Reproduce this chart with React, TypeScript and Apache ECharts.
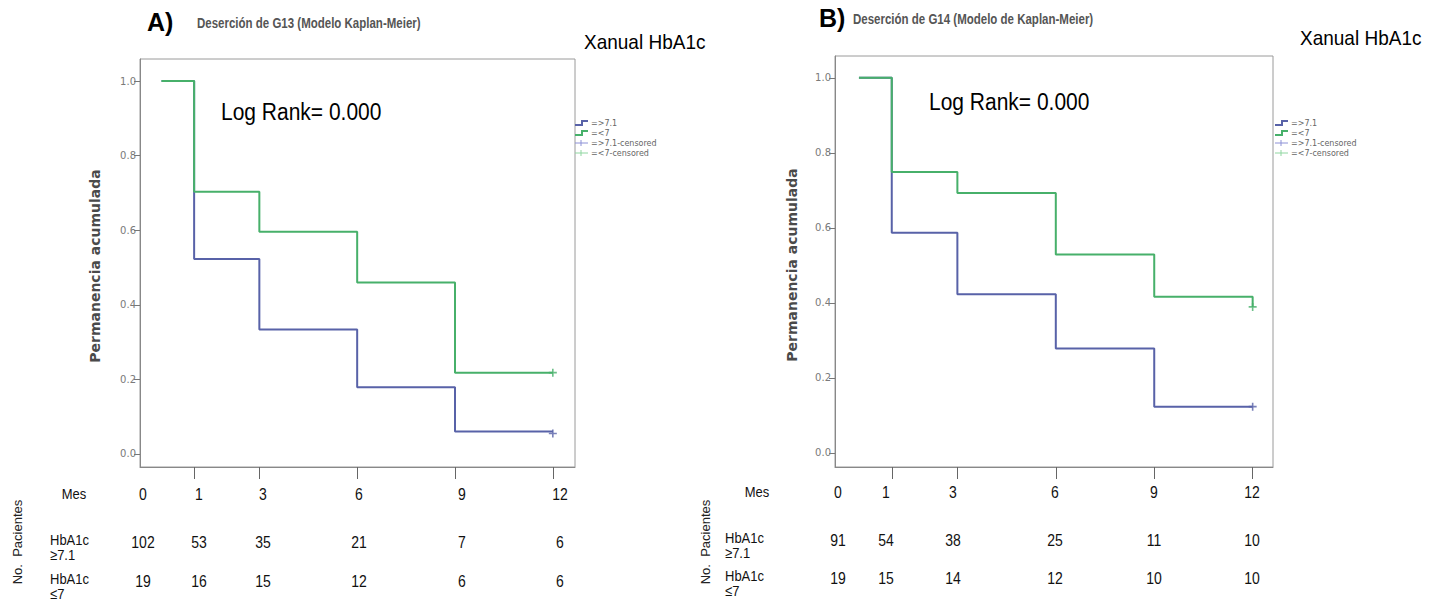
import React, { useEffect, useRef } from "react";
import * as echarts from "echarts";

// ---- data ----
const months = [0, 1, 3, 6, 9, 12];
const monthLabels = ["0", "1", "3", "6", "9", "12"];
const xTickMonths = [1, 3, 6, 9, 12];
const yTicks = [0, 0.2, 0.4, 0.6, 0.8, 1.0];

// Panel A: G13
const survHighA = [1, 0.523, 0.334, 0.179, 0.06, 0.06];
const survLowA = [1, 0.703, 0.596, 0.46, 0.218, 0.218];
const censorHighA = [[12, 0.055]];
const censorLowA = [[12, 0.218]];
const riskHighA = [102, 53, 35, 21, 7, 6];
const riskLowA = [19, 16, 15, 12, 6, 6];

// Panel B: G14
const survHighB = [1, 0.587, 0.423, 0.278, 0.123, 0.123];
const survLowB = [1, 0.749, 0.693, 0.529, 0.416, 0.389];
const censorHighB = [[12, 0.123]];
const censorLowB = [[12, 0.389]];
const riskHighB = [91, 54, 38, 25, 11, 10];
const riskLowB = [19, 15, 14, 12, 10, 10];

const legendLabels = ["=>7.1", "=<7", "=>7.1-censored", "=<7-censored"];

// ---- styles / layout ----
const BLUE = "#5862a8";
const GREEN = "#47b06a";
const BLUE_LIGHT = "#8c90d6";
const GREEN_LIGHT = "#8fd6a0";
const PLUS = "path://M4,0H6V4H10V6H6V10H4V6H0V4H4Z";

const panels = [
  {
    letter: "A)",
    title: "Deserción de G13 (Modelo Kaplan-Meier)",
    grid: { left: 140, top: 59, width: 435, height: 408 },
    xMin: -0.66, xMax: 12.68, yMin: -0.035, yMax: 1.059,
    high: survHighA, low: survLowA, cHigh: censorHighA, cLow: censorLowA,
    riskHigh: riskHighA, riskLow: riskLowA,
    letterPos: [147, 22], titlePos: [197, 23],
    logRankPos: [221, 112], xanualPos: [584, 42],
    legendPos: [575, 123],
    yNamePos: [95, 266],
    tableX: [143, 199, 263, 359, 462, 560],
    mesX: 74, rowLabelX: 50, pacX: 17,
    rowY: [494, 542, 581],
  },
  {
    letter: "B)",
    title: "Deserción de G14 (Modelo de Kaplan-Meier)",
    grid: { left: 835, top: 56, width: 438, height: 411 },
    xMin: -0.73, xMax: 12.62, yMin: -0.038, yMax: 1.058,
    high: survHighB, low: survLowB, cHigh: censorHighB, cLow: censorLowB,
    riskHigh: riskHighB, riskLow: riskLowB,
    letterPos: [819, 18], titlePos: [853, 19],
    logRankPos: [929, 102], xanualPos: [1300, 38],
    legendPos: [1275, 123],
    yNamePos: [792, 265],
    tableX: [838, 886, 953, 1055, 1154, 1252],
    mesX: 757, rowLabelX: 725, pacX: 705,
    rowY: [492, 540, 578],
  },
];

function buildOption() {
  const grids: any[] = [];
  const xAxes: any[] = [];
  const yAxes: any[] = [];
  const series: any[] = [];
  const graphics: any[] = [];

  panels.forEach((p, i) => {
    grids.push({ ...p.grid, show: true, borderColor: "#9a9a9a", borderWidth: 1, backgroundColor: "transparent" });
    xAxes.push({
      type: "value", gridIndex: i, min: p.xMin, max: p.xMax,
      axisLine: { show: true, onZero: false, lineStyle: { color: "#888", width: 1 } },
      axisTick: { show: true, customValues: xTickMonths, length: 12, lineStyle: { color: "#666" } },
      axisLabel: { show: false },
      splitLine: { show: false },
    });
    yAxes.push({
      type: "value", gridIndex: i, min: p.yMin, max: p.yMax,
      axisLine: { show: true, onZero: false, lineStyle: { color: "#888", width: 1 } },
      axisTick: { show: true, customValues: yTicks, length: 6, lineStyle: { color: "#777" } },
      axisLabel: {
        show: true, customValues: yTicks, formatter: (v: number) => v.toFixed(1),
        fontSize: 10, color: "#7a7a7a", fontFamily: "DejaVu Sans", margin: 4,
      },
      splitLine: { show: false },
    });
    series.push({
      type: "line", name: legendLabels[0], xAxisIndex: i, yAxisIndex: i, step: "end",
      data: months.map((m, j) => [m, p.high[j]]), showSymbol: false,
      lineStyle: { color: BLUE, width: 2 }, itemStyle: { color: BLUE }, z: 2,
    });
    series.push({
      type: "line", name: legendLabels[1], xAxisIndex: i, yAxisIndex: i, step: "end",
      data: months.map((m, j) => [m, p.low[j]]), showSymbol: false,
      lineStyle: { color: GREEN, width: 2 }, itemStyle: { color: GREEN }, z: 3,
    });
    series.push({
      type: "scatter", name: legendLabels[2], xAxisIndex: i, yAxisIndex: i,
      data: p.cHigh, symbol: PLUS, symbolSize: 8, itemStyle: { color: BLUE }, z: 4,
    });
    series.push({
      type: "scatter", name: legendLabels[3], xAxisIndex: i, yAxisIndex: i,
      data: p.cLow, symbol: PLUS, symbolSize: 8, itemStyle: { color: GREEN }, z: 4,
    });

    // titles
    graphics.push({
      type: "text", x: p.letterPos[0], y: p.letterPos[1], scaleY: 1.05,
      style: { text: p.letter, font: "bold 25px 'Liberation Sans', Arial", fill: "#000", verticalAlign: "middle" },
    });
    graphics.push({
      type: "text", x: p.titlePos[0], y: p.titlePos[1], scaleY: 1.35,
      style: { text: p.title, font: "bold 11.5px 'Liberation Sans', Arial", fill: "#555", verticalAlign: "middle" },
    });
    graphics.push({
      type: "text", x: p.logRankPos[0], y: p.logRankPos[1], scaleY: 1.1,
      style: { text: "Log Rank= 0.000", font: "21px 'Liberation Sans', Arial", fill: "#000", verticalAlign: "middle" },
    });
    graphics.push({
      type: "text", x: p.xanualPos[0], y: p.xanualPos[1], scaleY: 1.1,
      style: { text: "Xanual HbA1c", font: "19px 'Liberation Sans', Arial", fill: "#000", verticalAlign: "middle" },
    });
    // y-axis name
    graphics.push({
      type: "text", x: p.yNamePos[0], y: p.yNamePos[1], rotation: Math.PI / 2,
      style: { text: "Permanencia acumulada", font: "bold 14px 'DejaVu Sans'", fill: "#4a4a4a", align: "center", verticalAlign: "middle" },
    });
    // legend
    const [lx, ly] = p.legendPos;
    const rowsY = [ly, ly + 10, ly + 20, ly + 30];
    graphics.push({ type: "polyline", shape: { points: [[lx, rowsY[0] + 2], [lx + 7, rowsY[0] + 2], [lx + 7, rowsY[0] - 2], [lx + 13, rowsY[0] - 2]] }, style: { stroke: BLUE, lineWidth: 2, fill: null } });
    graphics.push({ type: "polyline", shape: { points: [[lx, rowsY[1] + 2], [lx + 7, rowsY[1] + 2], [lx + 7, rowsY[1] - 2], [lx + 13, rowsY[1] - 2]] }, style: { stroke: GREEN, lineWidth: 2, fill: null } });
    graphics.push({ type: "line", shape: { x1: lx, y1: rowsY[2], x2: lx + 13, y2: rowsY[2] }, style: { stroke: BLUE_LIGHT, lineWidth: 1 } });
    graphics.push({ type: "line", shape: { x1: lx + 6, y1: rowsY[2] - 3, x2: lx + 6, y2: rowsY[2] + 3 }, style: { stroke: BLUE_LIGHT, lineWidth: 1 } });
    graphics.push({ type: "line", shape: { x1: lx, y1: rowsY[3], x2: lx + 13, y2: rowsY[3] }, style: { stroke: GREEN_LIGHT, lineWidth: 1 } });
    graphics.push({ type: "line", shape: { x1: lx + 6, y1: rowsY[3] - 3, x2: lx + 6, y2: rowsY[3] + 3 }, style: { stroke: GREEN_LIGHT, lineWidth: 1 } });
    legendLabels.forEach((t, k) => {
      graphics.push({
        type: "text", x: lx + 16, y: rowsY[k],
        style: { text: t, font: "8px 'DejaVu Sans'", fill: "#666", verticalAlign: "middle" },
      });
    });

    // risk table
    const tableFont = "14px 'Liberation Sans', Arial";
    const labelFont = "13px 'Liberation Sans', Arial";
    graphics.push({
      type: "text", x: p.mesX, y: p.rowY[0], scaleY: 1.15,
      style: { text: "Mes", font: labelFont, fill: "#111", align: "center", verticalAlign: "middle" },
    });
    graphics.push({
      type: "text", x: p.rowLabelX, y: p.rowY[1] - 2, scaleY: 1.15,
      style: { text: "HbA1c", font: labelFont, fill: "#111", verticalAlign: "middle" },
    });
    graphics.push({
      type: "text", x: p.rowLabelX, y: p.rowY[1] + 13, scaleY: 1.15,
      style: { text: "≥7.1", font: labelFont, fill: "#111", verticalAlign: "middle" },
    });
    graphics.push({
      type: "text", x: p.rowLabelX, y: p.rowY[2] - 2, scaleY: 1.15,
      style: { text: "HbA1c", font: labelFont, fill: "#111", verticalAlign: "middle" },
    });
    graphics.push({
      type: "text", x: p.rowLabelX, y: p.rowY[2] + 13, scaleY: 1.15,
      style: { text: "≤7", font: labelFont, fill: "#111", verticalAlign: "middle" },
    });
    graphics.push({
      type: "text", x: p.pacX, y: 542, rotation: Math.PI / 2,
      style: { text: "No.  Pacientes", font: "13px 'Liberation Sans', Arial", fill: "#222", align: "center", verticalAlign: "middle" },
    });
    monthLabels.forEach((m, k) => {
      graphics.push({
        type: "text", x: p.tableX[k], y: p.rowY[0], scaleY: 1.2,
        style: { text: m, font: tableFont, fill: "#111", align: "center", verticalAlign: "middle" },
      });
      graphics.push({
        type: "text", x: p.tableX[k], y: p.rowY[1], scaleY: 1.2,
        style: { text: String(p.riskHigh[k]), font: tableFont, fill: "#111", align: "center", verticalAlign: "middle" },
      });
      graphics.push({
        type: "text", x: p.tableX[k], y: p.rowY[2], scaleY: 1.2,
        style: { text: String(p.riskLow[k]), font: tableFont, fill: "#111", align: "center", verticalAlign: "middle" },
      });
    });
  });

  return {
    animation: false,
    backgroundColor: "#ffffff",
    grid: grids,
    xAxis: xAxes,
    yAxis: yAxes,
    series,
    graphic: graphics,
  };
}

export default function App() {
  const ref = useRef<HTMLDivElement>(null);
  useEffect(() => {
    document.body.style.margin = "0";
    if (!ref.current) return;
    const chart = echarts.init(ref.current, null, { renderer: "svg" });
    chart.setOption(buildOption());
    return () => chart.dispose();
  }, []);
  return <div ref={ref} style={{ width: 1434, height: 604 }} />;
}
